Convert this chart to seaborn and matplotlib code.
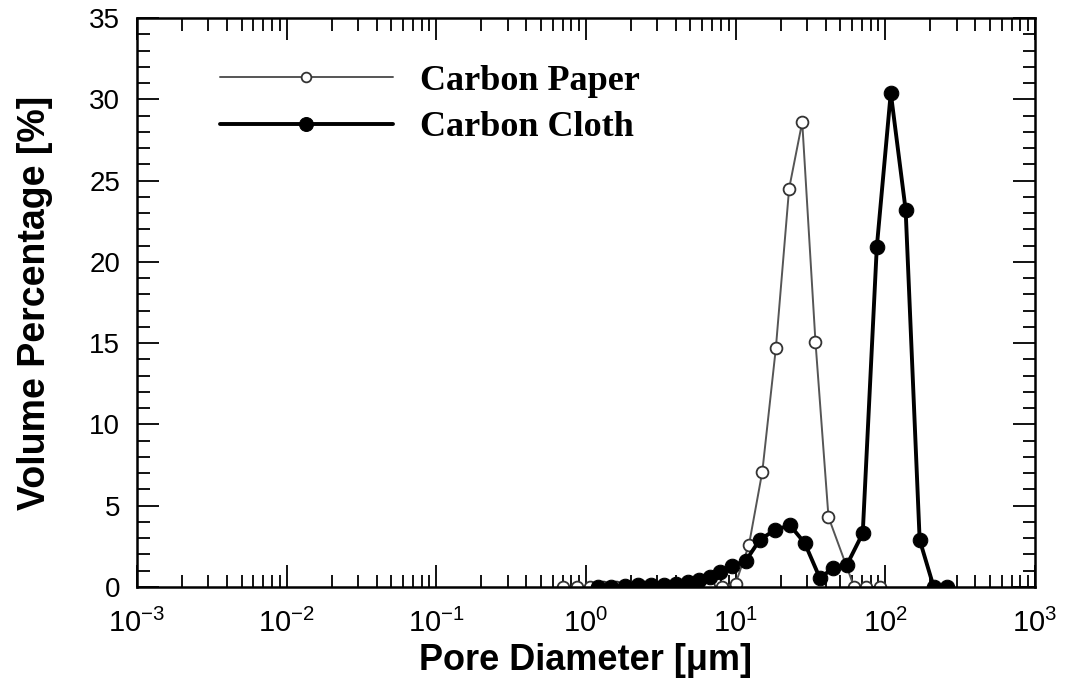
import numpy as np
import pandas as pd
import matplotlib
matplotlib.use("Agg")
import matplotlib.pyplot as plt
import seaborn as sns
from matplotlib.ticker import LogLocator, MultipleLocator, NullFormatter

# ---- data ----
paper_d = [0.70, 0.87, 1.06, 1.30, 1.60, 1.96, 2.40, 2.94, 3.61, 4.43, 5.43,
           6.65, 8.16, 10.0, 12.3, 15.1, 18.6, 22.8, 27.9, 34.2, 41.8, 62.0,
           75.0, 92.0]
paper_v = [0.0, 0.0, 0.0, 0.0, 0.0, 0.0, 0.0, 0.0, 0.0, 0.0, 0.0,
           0.0, 0.0, 0.2, 2.6, 7.1, 14.7, 24.5, 28.6, 15.1, 4.3, 0.0,
           0.0, 0.0]

cloth_d = [1.20, 1.47, 1.82, 2.22, 2.72, 3.32, 3.99, 4.80, 5.69, 6.74, 7.85,
           9.44, 11.7, 14.5, 18.3, 23.1, 29.0, 36.6, 44.7, 55.4, 70.8, 87.9,
           109.0, 137.0, 170.0, 211.0, 258.0]
cloth_v = [0.0, 0.0, 0.05, 0.1, 0.1, 0.15, 0.2, 0.3, 0.4, 0.6, 0.9,
           1.3, 1.6, 2.9, 3.5, 3.8, 2.7, 0.55, 1.15, 1.35, 3.3, 20.9,
           30.4, 23.2, 2.9, 0.0, 0.0]

series_names = ["Carbon Paper", "Carbon Cloth"]
x_ticks = [1e-3, 1e-2, 1e-1, 1e0, 1e1, 1e2, 1e3]
x_tick_labels = [r"$10^{-3}$", r"$10^{-2}$", r"$10^{-1}$", r"$10^{0}$",
                 r"$10^{1}$", r"$10^{2}$", r"$10^{3}$"]
y_ticks = [0, 5, 10, 15, 20, 25, 30, 35]

sns.set_style("ticks")
plt.rcParams["font.family"] = ["Liberation Sans", "DejaVu Sans"]
plt.rcParams["mathtext.fontset"] = "custom"
plt.rcParams["mathtext.rm"] = "Liberation Sans"
plt.rcParams["mathtext.it"] = "Liberation Sans"
plt.rcParams["mathtext.bf"] = "Liberation Sans:bold"
plt.rcParams["text.color"] = "black"
plt.rcParams["axes.labelcolor"] = "black"

fig = plt.figure(figsize=(10.83, 6.93), dpi=100)
ax = fig.add_axes([0.1265, 0.153, 0.829, 0.821])

df_p = pd.DataFrame({"d": paper_d, "v": paper_v})
df_c = pd.DataFrame({"d": cloth_d, "v": cloth_v})

sns.lineplot(data=df_p, x="d", y="v", ax=ax, sort=False, color="#555555",
             linewidth=1.4, marker="o", markersize=8.5, markerfacecolor="white",
             markeredgecolor="#333333", markeredgewidth=1.3,
             label=series_names[0], zorder=2)
sns.lineplot(data=df_c, x="d", y="v", ax=ax, sort=False, color="black",
             linewidth=2.8, marker="o", markersize=10.5, markerfacecolor="black",
             markeredgecolor="black", label=series_names[1], zorder=3)

ax.set_xscale("log")
ax.set_xlim(1e-3, 1e3)
ax.set_ylim(0, 35)
ax.set_xticks(x_ticks)
ax.set_xticklabels(x_tick_labels)
ax.xaxis.set_minor_locator(LogLocator(base=10, subs=np.arange(2, 10), numticks=20))
ax.xaxis.set_minor_formatter(NullFormatter())
ax.set_yticks(y_ticks)
ax.yaxis.set_minor_locator(MultipleLocator(1))

ax.tick_params(which="both", direction="in", top=True, right=True,
               width=1.3, colors="black")
ax.tick_params(which="major", length=16)
ax.tick_params(which="minor", length=9)
ax.tick_params(axis="x", which="major", labelsize=21, pad=16)
ax.tick_params(axis="y", which="major", labelsize=20, pad=12)
for s in ax.spines.values():
    s.set_linewidth(1.8)
    s.set_color("black")

ax.set_xlabel("Pore Diameter [\u03bcm]", fontsize=26, fontweight="bold", labelpad=3)
ax.set_ylabel("Volume Percentage [%]", fontsize=27, fontweight="bold", labelpad=26)

leg = ax.legend(loc="upper left", bbox_to_anchor=(0.092, 0.918), frameon=False,
                borderpad=0, borderaxespad=0, handlelength=4.8, handletextpad=0.75,
                labelspacing=0.36,
                prop={"family": "Liberation Serif", "weight": "bold", "size": 26})
leg.legend_handles[0].set_markersize(7)
leg.legend_handles[1].set_markersize(10)
for t in leg.get_texts():
    t.set_color("black")

fig.savefig("out.png", dpi=100)
